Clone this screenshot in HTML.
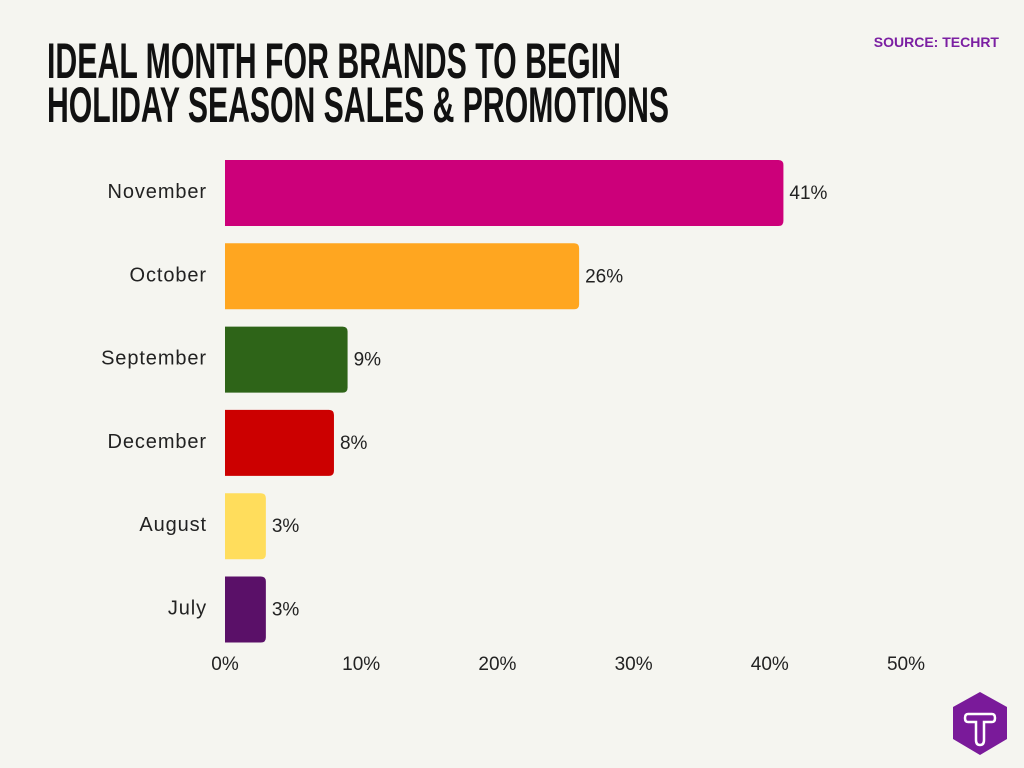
<!DOCTYPE html>
<html><head><meta charset="utf-8"><style>
html,body{margin:0;padding:0;background:#f5f5f0;}
svg{display:block;font-family:"Liberation Sans",sans-serif;}
</style></head><body>
<svg id="chart" width="1024" height="768" viewBox="0 0 1024 768">
<rect width="1024" height="768" fill="#f5f5f0"/>
<text x="47" y="78" font-size="50" font-weight="bold" fill="#111" textLength="574" lengthAdjust="spacingAndGlyphs">IDEAL MONTH FOR BRANDS TO BEGIN</text>
<text x="47" y="122" font-size="50" font-weight="bold" fill="#111" textLength="622" lengthAdjust="spacingAndGlyphs">HOLIDAY SEASON SALES &amp; PROMOTIONS</text>
<text x="999" y="47" font-size="14" font-weight="bold" fill="#7b1fa2" text-anchor="end">SOURCE: TECHRT</text>
<g id="bars"></g>
<g id="ticks"></g>
<g>
<polygon points="980,692 1007,707 1007,739 980,755 953,739 953,707" fill="#7a1a9a"/>
<path d="M968,714 Q965,714 965,718 Q965,722 968,722 L976,722 L976,740 Q976,745 980,745 Q984,745 984,740 L984,722 L992,722 Q995,722 995,718 Q995,714 992,714 Z" fill="none" stroke="#fff" stroke-width="2.5"/>
</g>
</svg>
<script>
const categories = ["November","October","September","December","August","July"];
const values = [41,26,9,8,3,3];
const colors = ["#cc007a","#ffa620","#2e6418","#cc0000","#ffdd5c","#5a1068"];
const tickValues = [0,10,20,30,40,50];
const tickLabels = ["0%","10%","20%","30%","40%","50%"];
const NS="http://www.w3.org/2000/svg";
function xScale(v){return 225+v*13.62;}
function yScale(i){return 160+i*83.3;}
const bh=66;
const g=document.getElementById('bars');
categories.forEach((c,i)=>{
  const x0=xScale(0), x1=xScale(values[i]), y=yScale(i), r=5;
  const p=document.createElementNS(NS,'path');
  p.setAttribute('d',`M${x0},${y} L${x1-r},${y} Q${x1},${y} ${x1},${y+r} L${x1},${y+bh-r} Q${x1},${y+bh} ${x1-r},${y+bh} L${x0},${y+bh} Z`);
  p.setAttribute('fill',colors[i]);
  
  
  g.appendChild(p);
  const l=document.createElementNS(NS,'text');
  l.setAttribute('x',207);l.setAttribute('y',y+bh/2+5);
  l.setAttribute('text-anchor','end');l.setAttribute('font-size','20');l.setAttribute('fill','#222');
  l.setAttribute('letter-spacing','0.9');
  l.textContent=c;
  
  
  g.appendChild(l);
  const v=document.createElementNS(NS,'text');
  v.setAttribute('x',x1+6);v.setAttribute('y',y+bh/2+6);
  v.setAttribute('font-size','19');v.setAttribute('fill','#222');
  v.textContent=values[i]+'%';
  
  
  g.appendChild(v);
});
const tg=document.getElementById('ticks');
tickValues.forEach((t,i)=>{
  const e=document.createElementNS(NS,'text');
  e.setAttribute('x',xScale(t));e.setAttribute('y',670);
  e.setAttribute('text-anchor','middle');e.setAttribute('font-size','19');e.setAttribute('fill','#222');
  e.textContent=tickLabels[i];
  
  
  tg.appendChild(e);
});
</script>
</body></html>
